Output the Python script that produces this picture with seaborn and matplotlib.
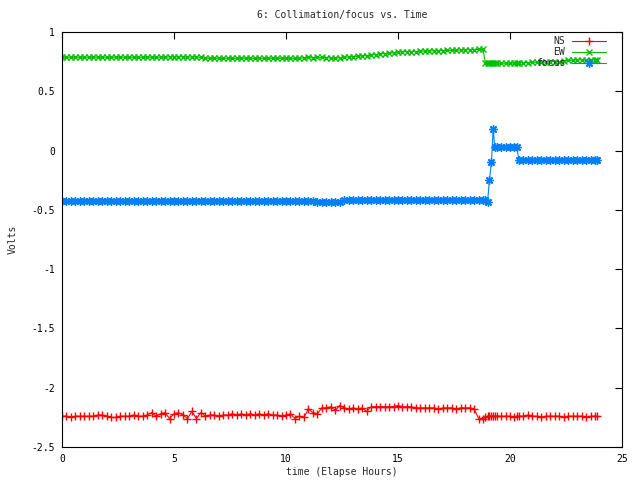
import numpy as np
import pandas as pd
import matplotlib
matplotlib.use("Agg")
import matplotlib.pyplot as plt
import seaborn as sns

# ---- data ----
time_h = [
    0.0, 0.2, 0.4, 0.6, 0.8, 1.0, 1.2, 1.4, 1.6, 1.8,
    2.0, 2.2, 2.4, 2.6, 2.8, 3.0, 3.2, 3.4, 3.6, 3.8,
    4.0, 4.2, 4.4, 4.6, 4.8, 5.0, 5.2, 5.4, 5.6, 5.8,
    6.0, 6.2, 6.4, 6.6, 6.8, 7.0, 7.2, 7.4, 7.6, 7.8,
    8.0, 8.2, 8.4, 8.6, 8.8, 9.0, 9.2, 9.4, 9.6, 9.8,
    10.0, 10.2, 10.4, 10.6, 10.8, 11.0, 11.2, 11.4, 11.6, 11.8,
    12.0, 12.2, 12.4, 12.6, 12.8, 13.0, 13.2, 13.4, 13.6, 13.8,
    14.0, 14.2, 14.4, 14.6, 14.8, 15.0, 15.2, 15.4, 15.6, 15.8,
    16.0, 16.2, 16.4, 16.6, 16.8, 17.0, 17.2, 17.4, 17.6, 17.8,
    18.0, 18.2, 18.4, 18.6, 18.8, 18.9, 19.0, 19.08, 19.17, 19.25,
    19.32, 19.4, 19.6, 19.8, 20.0, 20.2, 20.3, 20.4, 20.6, 20.8,
    21.0, 21.2, 21.4, 21.6, 21.8, 22.0, 22.2, 22.4, 22.6, 22.8,
    23.0, 23.2, 23.4, 23.6, 23.8, 23.9,
]

ns = [
    -2.24, -2.24, -2.25, -2.24, -2.24, -2.24, -2.24, -2.24, -2.23, -2.23,
    -2.24, -2.25, -2.25, -2.24, -2.24, -2.24, -2.23, -2.24, -2.24, -2.23,
    -2.21, -2.24, -2.22, -2.21, -2.26, -2.22, -2.21, -2.23, -2.26, -2.20,
    -2.26, -2.21, -2.24, -2.23, -2.23, -2.24, -2.23, -2.23, -2.22, -2.23,
    -2.22, -2.23, -2.22, -2.23, -2.22, -2.23, -2.22, -2.23, -2.23, -2.24,
    -2.23, -2.22, -2.26, -2.24, -2.25, -2.18, -2.21, -2.22, -2.17, -2.17,
    -2.16, -2.19, -2.15, -2.17, -2.18, -2.17, -2.18, -2.17, -2.20, -2.16,
    -2.16, -2.16, -2.16, -2.16, -2.16, -2.15, -2.16, -2.16, -2.16, -2.17,
    -2.17, -2.17, -2.17, -2.17, -2.18, -2.17, -2.17, -2.17, -2.18, -2.17,
    -2.17, -2.17, -2.18, -2.26, -2.26, -2.25, -2.24, -2.24, -2.24, -2.24,
    -2.24, -2.24, -2.24, -2.24, -2.24, -2.25, -2.24, -2.24, -2.24, -2.23,
    -2.24, -2.24, -2.25, -2.24, -2.24, -2.24, -2.24, -2.25, -2.24, -2.24,
    -2.24, -2.24, -2.25, -2.24, -2.24, -2.24,
]

ew = [
    0.787, 0.787, 0.787, 0.787, 0.787, 0.787, 0.787, 0.787, 0.787, 0.787,
    0.787, 0.787, 0.787, 0.787, 0.787, 0.787, 0.787, 0.787, 0.787, 0.787,
    0.787, 0.787, 0.787, 0.787, 0.790, 0.790, 0.792, 0.790, 0.788, 0.790,
    0.790, 0.785, 0.780, 0.778, 0.778, 0.778, 0.778, 0.778, 0.778, 0.778,
    0.778, 0.778, 0.778, 0.778, 0.778, 0.778, 0.778, 0.778, 0.778, 0.778,
    0.778, 0.778, 0.778, 0.778, 0.782, 0.785, 0.782, 0.785, 0.785, 0.783,
    0.780, 0.780, 0.782, 0.785, 0.790, 0.790, 0.795, 0.800, 0.800, 0.805,
    0.810, 0.815, 0.818, 0.820, 0.825, 0.830, 0.833, 0.834, 0.835, 0.835,
    0.838, 0.840, 0.840, 0.842, 0.843, 0.843, 0.845, 0.845, 0.847, 0.848,
    0.850, 0.850, 0.852, 0.853, 0.854, 0.737, 0.736, 0.736, 0.736, 0.736,
    0.736, 0.736, 0.736, 0.737, 0.737, 0.738, 0.738, 0.740, 0.742, 0.742,
    0.745, 0.745, 0.745, 0.747, 0.750, 0.750, 0.750, 0.755, 0.760, 0.762,
    0.765, 0.765, 0.762, 0.765, 0.765, 0.765,
]

focus = [
    -0.425, -0.425, -0.425, -0.425, -0.425, -0.425, -0.425, -0.425, -0.425, -0.425,
    -0.425, -0.425, -0.425, -0.425, -0.425, -0.425, -0.425, -0.425, -0.425, -0.425,
    -0.425, -0.425, -0.425, -0.425, -0.425, -0.425, -0.425, -0.425, -0.425, -0.425,
    -0.425, -0.425, -0.425, -0.425, -0.425, -0.425, -0.425, -0.425, -0.425, -0.425,
    -0.425, -0.425, -0.425, -0.425, -0.425, -0.425, -0.425, -0.425, -0.425, -0.425,
    -0.425, -0.425, -0.425, -0.425, -0.425, -0.425, -0.425, -0.435, -0.435, -0.435,
    -0.435, -0.435, -0.435, -0.420, -0.420, -0.420, -0.420, -0.420, -0.420, -0.420,
    -0.420, -0.420, -0.420, -0.420, -0.420, -0.420, -0.420, -0.420, -0.420, -0.420,
    -0.420, -0.420, -0.420, -0.420, -0.420, -0.420, -0.420, -0.420, -0.420, -0.420,
    -0.420, -0.420, -0.420, -0.420, -0.420, -0.420, -0.430, -0.250, -0.100, 0.180,
    0.030, 0.030, 0.030, 0.030, 0.030, 0.030, 0.030, -0.080, -0.080, -0.080,
    -0.080, -0.080, -0.080, -0.080, -0.080, -0.080, -0.080, -0.080, -0.080, -0.080,
    -0.080, -0.080, -0.080, -0.080, -0.080, -0.080,
]

series_names = ["NS", "EW", "focus"]
x_ticks = [0, 5, 10, 15, 20, 25]
y_ticks = [-2.5, -2, -1.5, -1, -0.5, 0, 0.5, 1]
y_tick_labels = ["-2.5", "-2", "-1.5", "-1", "-0.5", "0", "0.5", "1"]

title = "6: Collimation/focus vs. Time"
xlabel = "time (Elapse Hours)"
ylabel = "Volts"

# ---- plotting ----
sns.set_style("white")
plt.rcParams["font.family"] = ["DejaVu Sans Mono"]
plt.rcParams["font.size"] = 7

fig = plt.figure(figsize=(6.4, 4.8), dpi=100)
ax = fig.add_axes([62 / 640, 1 - 447 / 480, 560 / 640, 415 / 480])

styles = {
    "NS": dict(color="#ff0000", marker="+", markersize=6, markeredgewidth=1.0),
    "EW": dict(color="#00c000", marker="x", markersize=4, markeredgewidth=1.0),
    "focus": dict(color="#0080ff", marker=(8, 2, 0), markersize=6, markeredgewidth=1.0),
}

df = pd.DataFrame({"time": time_h, "NS": ns, "EW": ew, "focus": focus})
for name in series_names:
    st = styles[name]
    sns.lineplot(data=df, x="time", y=name, ax=ax, estimator=None, sort=False,
                 linewidth=0.8, label=name, color=st["color"], marker=st["marker"],
                 markersize=st["markersize"], markeredgewidth=st["markeredgewidth"],
                 markeredgecolor=st["color"], markerfacecolor=st["color"])

ax.set_xlim(0, 25)
ax.set_ylim(-2.5, 1)
ax.set_xticks(x_ticks)
ax.set_xticklabels([str(t) for t in x_ticks])
ax.set_yticks(y_ticks)
ax.set_yticklabels(y_tick_labels)
ax.tick_params(direction="in", length=5, width=0.8, top=True, right=True,
               labelsize=7, pad=5, colors="black")
for sp in ax.spines.values():
    sp.set_visible(True)
    sp.set_color("black")
    sp.set_linewidth(0.8)

ax.set_title(title, fontsize=7, pad=10)
ax.set_xlabel(xlabel, fontsize=7, labelpad=2)
ax.set_ylabel(ylabel, fontsize=7, labelpad=10)

leg = ax.legend(loc="upper right", frameon=False, markerfirst=False,
                bbox_to_anchor=((606 - 62) / 560, (447 - 36) / 415),
                borderaxespad=0, borderpad=0,
                handlelength=3.5, handletextpad=0.7, labelspacing=0.1,
                fontsize=7, numpoints=1)

fig.savefig("out.png", dpi=100)
